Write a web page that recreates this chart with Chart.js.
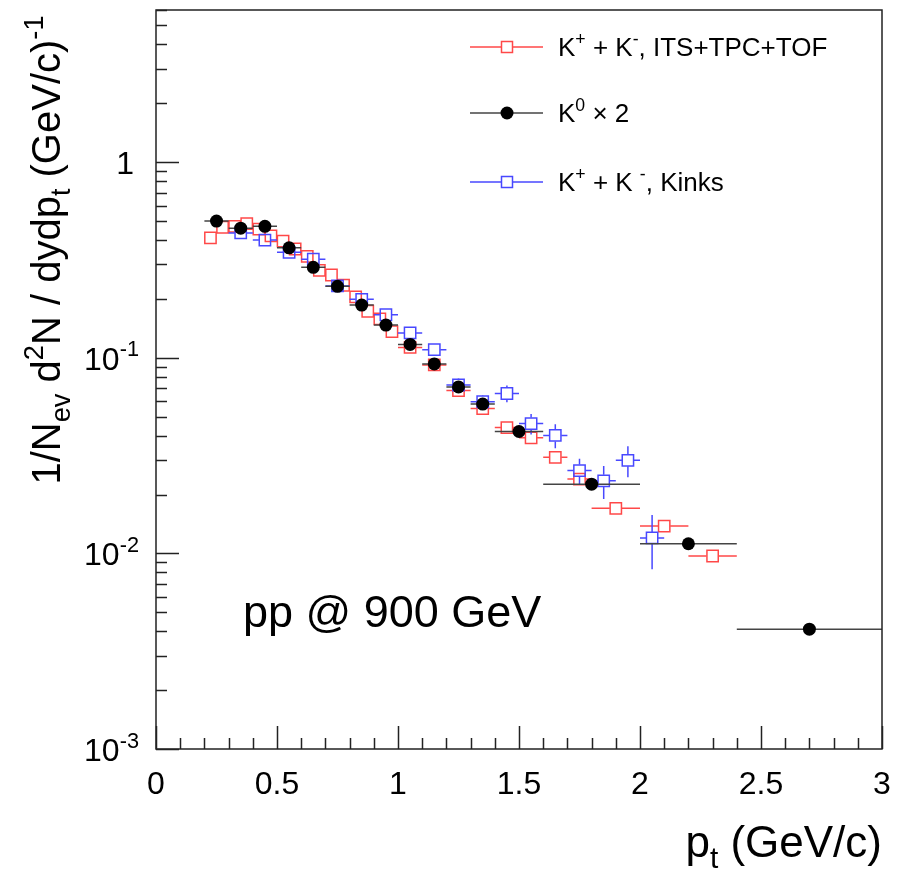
<!DOCTYPE html>
<html>
<head>
<meta charset="utf-8">
<script src="https://cdn.jsdelivr.net/npm/chart.js@4.4.1/dist/chart.umd.min.js"></script>
<style>
  body { margin: 0; background: #fff; }
  canvas { display: block; }
</style>
</head>
<body>
<canvas id="spectrum" width="903" height="880"></canvas>
<script>
// K+ + K-, ITS+TPC+TOF
var redX = [0.225, 0.275, 0.325, 0.375, 0.425, 0.475, 0.525, 0.575, 0.625, 0.675, 0.725, 0.775, 0.825, 0.875, 0.925, 0.975,
            1.05, 1.15, 1.25, 1.35, 1.45, 1.55, 1.65, 1.75, 1.9, 2.1, 2.3];
var redY = [0.41, 0.465, 0.47, 0.485, 0.455, 0.42, 0.395, 0.36, 0.33, 0.28, 0.265, 0.235, 0.205, 0.173, 0.158, 0.136,
            0.113, 0.092, 0.068, 0.055, 0.044, 0.039, 0.031, 0.024, 0.017, 0.0138, 0.0097];
var redXErr = [0.025, 0.025, 0.025, 0.025, 0.025, 0.025, 0.025, 0.025, 0.025, 0.025, 0.025, 0.025, 0.025, 0.025, 0.025, 0.025,
               0.05, 0.05, 0.05, 0.05, 0.05, 0.05, 0.05, 0.05, 0.1, 0.1, 0.1];
var redYErr = [0.012, 0.013, 0.013, 0.013, 0.012, 0.011, 0.011, 0.01, 0.009, 0.008, 0.008, 0.007, 0.006, 0.005, 0.005, 0.004,
               0.004, 0.003, 0.0025, 0.002, 0.0017, 0.0015, 0.0012, 0.001, 0.0008, 0.0007, 0.0005];

// K0 x 2
var blackX = [0.25, 0.35, 0.45, 0.55, 0.65, 0.75, 0.85, 0.95, 1.05, 1.15, 1.25, 1.35, 1.5, 1.8, 2.2, 2.7];
var blackY = [0.50, 0.46, 0.47, 0.365, 0.29, 0.232, 0.186, 0.147, 0.117, 0.093, 0.071, 0.058, 0.042, 0.0226, 0.0112, 0.0041];
var blackXErr = [0.05, 0.05, 0.05, 0.05, 0.05, 0.05, 0.05, 0.05, 0.05, 0.05, 0.05, 0.05, 0.1, 0.2, 0.2, 0.3];
var blackYErr = [0.015, 0.013, 0.013, 0.01, 0.008, 0.006, 0.005, 0.004, 0.003, 0.0025, 0.002, 0.0017, 0.0013, 0.0008, 0.0004, 0.00015];

// K+ + K-, Kinks
var blueX = [0.35, 0.45, 0.55, 0.65, 0.75, 0.85, 0.95, 1.05, 1.15, 1.25, 1.35, 1.45, 1.55, 1.65, 1.75, 1.85, 1.95, 2.05];
var blueY = [0.435, 0.40, 0.346, 0.319, 0.233, 0.199, 0.166, 0.134, 0.110, 0.0726, 0.0596, 0.0657, 0.0461, 0.0401, 0.0265, 0.0235, 0.0299, 0.012];
var blueXErr = [0.05, 0.05, 0.05, 0.05, 0.05, 0.05, 0.05, 0.05, 0.05, 0.05, 0.05, 0.05, 0.05, 0.05, 0.05, 0.05, 0.05, 0.05];
var blueYErr = [0.017, 0.016, 0.014, 0.013, 0.01, 0.009, 0.008, 0.0067, 0.0066, 0.0058, 0.0048, 0.0065, 0.0055, 0.0056, 0.004, 0.0045, 0.0054, 0.0037];

var xTicks = [0, 0.5, 1, 1.5, 2, 2.5, 3];
var xTickLabels = ['0', '0.5', '1', '1.5', '2', '2.5', '3'];
var yTicks = [0.001, 0.01, 0.1, 1];
var yTickExps = ['-3', '-2', '-1', ''];

var RED = 'rgb(255,72,72)';
var BLUE = 'rgb(72,72,255)';
var FONT = '"Liberation Sans", Arial, Helvetica, sans-serif';

function toPoints(xs, ys) {
    return xs.map(function(x, i) { return { x: x, y: ys[i] }; });
}

/**
 * Draw text with superscript / subscript pieces
 * parts: [[text, 'n'|'sup'|'sub'], ...]
 */
function richWidth(ctx, parts, size) {
    var w = 0;
    parts.forEach(function(p) {
        var s = p[1] === 'n' ? size : size * 0.68;
        ctx.font = s + 'px ' + FONT;
        w += ctx.measureText(p[0]).width;
    });
    return w;
}

function drawRich(ctx, parts, x, y, size) {
    parts.forEach(function(p) {
        var s = size, dy = 0;
        if (p[1] === 'sup') { s = size * 0.68; dy = -size * 0.42; }
        if (p[1] === 'sub') { s = size * 0.68; dy = size * 0.24; }
        ctx.font = s + 'px ' + FONT;
        ctx.fillText(p[0], x, y + dy);
        x += ctx.measureText(p[0]).width;
    });
    return x;
}

// error bars drawn under each dataset's markers
var errorBars = {
    id: 'errorBars',
    beforeDatasetDraw: function(chart, args) {
        var ds = chart.data.datasets[args.index];
        var ctx = chart.ctx, xs = chart.scales.x, ys = chart.scales.y, area = chart.chartArea;
        ctx.save();
        ctx.beginPath();
        ctx.rect(area.left, area.top, area.right - area.left, area.bottom - area.top);
        ctx.clip();
        ctx.strokeStyle = ds.errColor;
        ctx.lineWidth = 1.5;
        ds.data.forEach(function(p, i) {
            var cx = xs.getPixelForValue(p.x), cy = ys.getPixelForValue(p.y);
            var x0 = xs.getPixelForValue(p.x - ds.xErr[i]), x1 = xs.getPixelForValue(p.x + ds.xErr[i]);
            var y0 = ys.getPixelForValue(p.y + ds.yErr[i]);
            var y1 = ys.getPixelForValue(Math.max(p.y - ds.yErr[i], 1e-5));
            var g = ds.gap;
            ctx.beginPath();
            if (cx - x0 > g) { ctx.moveTo(x0, cy); ctx.lineTo(cx - g, cy); }
            if (x1 - cx > g) { ctx.moveTo(cx + g, cy); ctx.lineTo(x1, cy); }
            if (cy - y0 > g) { ctx.moveTo(cx, y0); ctx.lineTo(cx, cy - g); }
            if (y1 - cy > g) { ctx.moveTo(cx, cy + g); ctx.lineTo(cx, y1); }
            ctx.stroke();
        });
        ctx.restore();
    }
};

// ROOT style frame, ticks, labels, legend
var frame = {
    id: 'frame',
    afterDraw: function(chart) {
        var ctx = chart.ctx, xs = chart.scales.x, ys = chart.scales.y, a = chart.chartArea;
        ctx.save();
        ctx.strokeStyle = '#222';
        ctx.lineWidth = 1.5;
        ctx.strokeRect(a.left, a.top, a.right - a.left, a.bottom - a.top);

        // x ticks
        ctx.beginPath();
        for (var k = 0; k <= 30; k++) {
            var px = Math.round(xs.getPixelForValue(k / 10)) + 0.5;
            var len = (k % 5 === 0) ? 23 : 11;
            ctx.moveTo(px, a.bottom);
            ctx.lineTo(px, a.bottom - len);
        }
        // y ticks
        for (var e = -3; e <= 0; e++) {
            for (var m = 1; m <= 9; m++) {
                var v = m * Math.pow(10, e);
                if (v > ys.max) break;
                var py = Math.round(ys.getPixelForValue(v)) + 0.5;
                ctx.moveTo(a.left, py);
                ctx.lineTo(a.left + (m === 1 ? 23 : 11), py);
            }
        }
        ctx.stroke();

        ctx.fillStyle = '#000';
        ctx.textBaseline = 'alphabetic';
        // x tick labels
        ctx.font = '32px ' + FONT;
        ctx.textAlign = 'center';
        xTicks.forEach(function(t, i) {
            ctx.fillText(xTickLabels[i], xs.getPixelForValue(t), a.bottom + 45);
        });
        // y tick labels
        ctx.textAlign = 'left';
        yTicks.forEach(function(t, i) {
            var py = ys.getPixelForValue(t) + 12;
            var parts = yTickExps[i] ? [['10', 'n'], [yTickExps[i], 'sup']] : [['1', 'n']];
            var w = richWidth(ctx, parts, 32);
            var right = yTickExps[i] ? 139 : 134;
            drawRich(ctx, parts, right - w, py, 32);
        });

        // x title
        var xt = [['p', 'n'], ['t', 'sub'], [' (GeV/c)', 'n']];
        var xw = richWidth(ctx, xt, 44);
        drawRich(ctx, xt, a.right - xw, 857, 44);

        // y title
        var yt = [['1/N', 'n'], ['ev', 'sub'], [' d', 'n'], ['2', 'sup'], ['N / dydp', 'n'], ['t', 'sub'],
                  [' (GeV/c)', 'n'], ['-1', 'sup']];
        var yw = richWidth(ctx, yt, 40);
        ctx.save();
        ctx.translate(60, 250 + yw / 2);
        ctx.rotate(-Math.PI / 2);
        drawRich(ctx, yt, 0, 0, 40);
        ctx.restore();

        // annotation
        ctx.font = '45px ' + FONT;
        ctx.fillText('pp @ 900 GeV', 243, 627);

        // legend
        var entries = [
            { y: 47, color: RED, style: 'rect', text: [['K', 'n'], ['+', 'sup'], [' + K', 'n'], ['-', 'sup'], [', ITS+TPC+TOF', 'n']] },
            { y: 113, color: '#000', style: 'circle', text: [['K', 'n'], ['0', 'sup'], [' \u00d7 2', 'n']] },
            { y: 182, color: BLUE, style: 'rect', text: [['K', 'n'], ['+', 'sup'], [' + K ', 'n'], ['-', 'sup'], [', Kinks', 'n']] }
        ];
        entries.forEach(function(en) {
            ctx.strokeStyle = en.color === '#000' ? '#444' : en.color;
            ctx.lineWidth = 1.5;
            ctx.beginPath();
            if (en.style === 'rect') {
                ctx.moveTo(470, en.y); ctx.lineTo(501, en.y);
                ctx.moveTo(513, en.y); ctx.lineTo(543, en.y);
                ctx.stroke();
                ctx.strokeStyle = en.color;
                ctx.strokeRect(501.5, en.y - 5.5, 11, 11);
            } else {
                ctx.moveTo(470, en.y); ctx.lineTo(543, en.y);
                ctx.stroke();
                ctx.fillStyle = '#000';
                ctx.beginPath();
                ctx.arc(507, en.y, 6.5, 0, Math.PI * 2);
                ctx.fill();
            }
            ctx.fillStyle = '#000';
            drawRich(ctx, en.text, 558, en.y + 9, 26);
        });
        ctx.restore();
    }
};

new Chart(document.getElementById('spectrum').getContext('2d'), {
    type: 'scatter',
    data: {
        datasets: [{
            label: 'K+ + K-, ITS+TPC+TOF',
            data: toPoints(redX, redY),
            xErr: redXErr, yErr: redYErr, errColor: RED, gap: 6,
            pointStyle: 'rect',
            pointRadius: 8,
            borderColor: RED,
            backgroundColor: 'rgba(0,0,0,0)',
            borderWidth: 1.5,
            order: 3
        }, {
            label: 'K0 x 2',
            data: toPoints(blackX, blackY),
            xErr: blackXErr, yErr: blackYErr, errColor: '#444', gap: 0,
            pointStyle: 'circle',
            pointRadius: 6.5,
            borderColor: '#000',
            backgroundColor: '#000',
            borderWidth: 0,
            order: 1
        }, {
            label: 'K+ + K-, Kinks',
            data: toPoints(blueX, blueY),
            xErr: blueXErr, yErr: blueYErr, errColor: BLUE, gap: 6,
            pointStyle: 'rect',
            pointRadius: 8,
            borderColor: BLUE,
            backgroundColor: 'rgba(0,0,0,0)',
            borderWidth: 1.5,
            order: 2
        }]
    },
    options: {
        responsive: false,
        animation: false,
        devicePixelRatio: 1,
        layout: { padding: { left: 156, right: 21, top: 10, bottom: 131 } },
        plugins: { legend: { display: false }, tooltip: { enabled: false } },
        scales: {
            x: { type: 'linear', min: 0, max: 3, display: false },
            y: { type: 'logarithmic', min: 0.001, max: 6, display: false }
        }
    },
    plugins: [errorBars, frame]
});
</script>
</body>
</html>
